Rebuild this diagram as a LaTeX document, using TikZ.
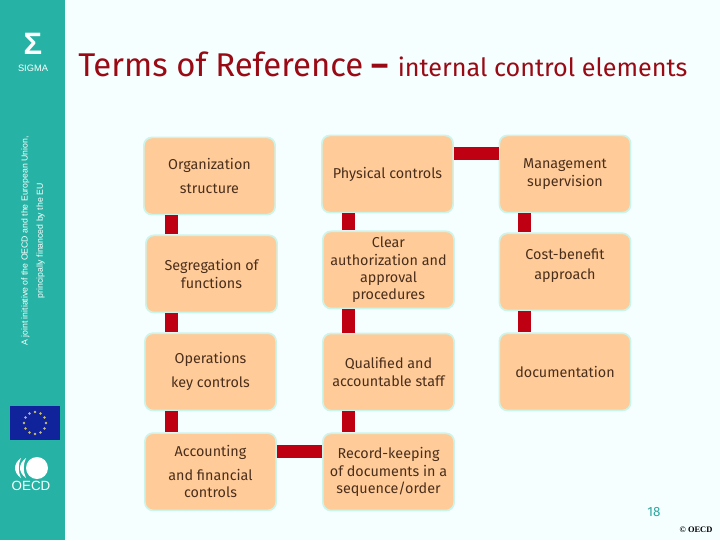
\documentclass[tikz,border=0pt]{standalone}
\usepackage{fontspec}
\setmainfont{Fira Sans}
\newfontfamily\logofont{Liberation Sans}
\newfontfamily\stampfont{Liberation Serif}
\usetikzlibrary{positioning}
\definecolor{pagebg}{HTML}{F5FFFF}
\definecolor{sidebar}{HTML}{26B3A5}
\definecolor{boxfill}{HTML}{FFCC99}
\definecolor{boxedge}{HTML}{CCF5EA}
\definecolor{linkred}{HTML}{BE0012}
\definecolor{titleink}{HTML}{990A14}
\definecolor{boxink}{HTML}{4A2E1C}
\definecolor{euflag}{HTML}{10239A}
\definecolor{eustar}{HTML}{C8BE6E}
\definecolor{pagenum}{HTML}{2FA5A0}
\tikzset{
  ctrlbox/.style={draw=boxedge, line width=1.2pt, rounded corners=0.2cm, fill=boxfill,
    text=boxink, minimum width=3.28cm, minimum height=1.93cm, inner sep=1pt,
    font=\fontsize{10.2}{12.4}\selectfont, align=center},
  link/.style={draw=linkred, line width=0.325cm},
  sidetext/.style={text=white, rotate=90, align=center, font=\logofont\fontsize{6.2}{11}\selectfont}
}
\begin{document}
\begin{tikzpicture}[x=0.025cm, y=-0.025cm]
  \useasboundingbox (0,0) rectangle (720,540);
  \fill[pagebg] (0,0) rectangle (720,540);
  \fill[sidebar] (0,0) rectangle (65,540);

  \node[text=white, font=\logofont\bfseries\fontsize{22}{22}\selectfont] (sigma) at (33,44) {Σ};
  \node[text=white, font=\logofont\fontsize{6.6}{8}\selectfont] (sigmaname) at (33,68) {SIGMA};
  \node[sidetext] (initiative) at (33,241)
    {A joint initiative of the OECD and the European Union,\\principally financed by the EU};

  \fill[euflag] (10,406) rectangle (60,440);
  \foreach \a in {0,30,...,330}
    \fill[eustar, shift={(35,423)}] (\a:11) circle (1.3);
  \fill[white] (37,468) circle (11);
  \fill[white] (21,458) .. controls (13,464) and (13,472) .. (21,478)
    .. controls (18,472) and (18,464) .. (21,458);
  \fill[white] (26,458) .. controls (18,464) and (18,472) .. (26,478)
    .. controls (23,472) and (23,464) .. (26,458);
  \node[text=white, font=\logofont\fontsize{9.5}{10}\selectfont, inner sep=0pt] (oecd) at (31,486) {OECD};

  \node[anchor=base west, inner sep=0pt, text=titleink, font=\fontsize{23.4}{28}\selectfont] (title) at (78,76)
    {Terms of Reference {\bfseries –} {\fontsize{17.9}{20}\selectfont internal control elements}};

  \node[ctrlbox] (org) at (209.5,176) {Organization\\[4.6pt]structure};
  \node[ctrlbox, below=0.475cm of org, xshift=0.05cm] (seg) {Segregation of\\functions};
  \node[ctrlbox, below=0.475cm of seg, xshift=-0.025cm] (oper) {Operations\\[4.6pt]key controls};
  \node[ctrlbox, below=0.525cm of oper] (acct) {Accounting\\[4.6pt]and financial\\controls};

  \node[ctrlbox] (phys) at (387.5,174) {Physical controls};
  \node[ctrlbox, below=0.425cm of phys, xshift=0.025cm] (clear) {Clear\\authorization and\\approval\\procedures};
  \node[ctrlbox, below=0.58cm of clear] (qual) {Qualified and\\accountable staff};
  \node[ctrlbox, below=0.525cm of qual] (rec) {Record-keeping\\of documents in a\\sequence/order};

  \node[ctrlbox] (mgmt) at (565,174) {Management\\supervision};
  \node[ctrlbox, below=0.475cm of mgmt, text depth=11pt] (cost) {Cost-benefit\\[2pt]approach};
  \node[ctrlbox, below=0.525cm of cost] (docu) {documentation};

  \draw[link] ([xshift=-0.95cm]org.south) -- ([xshift=-0.95cm]org.south |- seg.north);
  \draw[link] ([xshift=-1cm]seg.south) -- ([xshift=-1cm]seg.south |- oper.north);
  \draw[link] ([xshift=-0.975cm]oper.south) -- ([xshift=-0.975cm]oper.south |- acct.north);
  \draw[link] ([xshift=-0.975cm]phys.south) -- ([xshift=-0.975cm]phys.south |- clear.north);
  \draw[link] ([xshift=-0.99cm]clear.south) -- ([xshift=-0.99cm]clear.south |- qual.north);
  \draw[link] ([xshift=-0.99cm]qual.south) -- ([xshift=-0.99cm]qual.south |- rec.north);
  \draw[link] ([xshift=-1.01cm]mgmt.south) -- ([xshift=-1.01cm]mgmt.south |- cost.north);
  \draw[link] ([xshift=-1.01cm]cost.south) -- ([xshift=-1.01cm]cost.south |- docu.north);
  \draw[link] ([yshift=0.51cm]phys.east) -- ([yshift=0.51cm]phys.east -| mgmt.west);
  \draw[link] ([yshift=0.51cm]acct.east) -- ([yshift=0.51cm]acct.east -| rec.west);

  \node[text=pagenum, font=\fontsize{9.5}{11}\selectfont] (pageno) at (654,512) {18};
  \node[text=black, font=\stampfont\bfseries\fontsize{6}{7}\selectfont] (stamp) at (696,530) {© OECD};
\end{tikzpicture}
\end{document}
